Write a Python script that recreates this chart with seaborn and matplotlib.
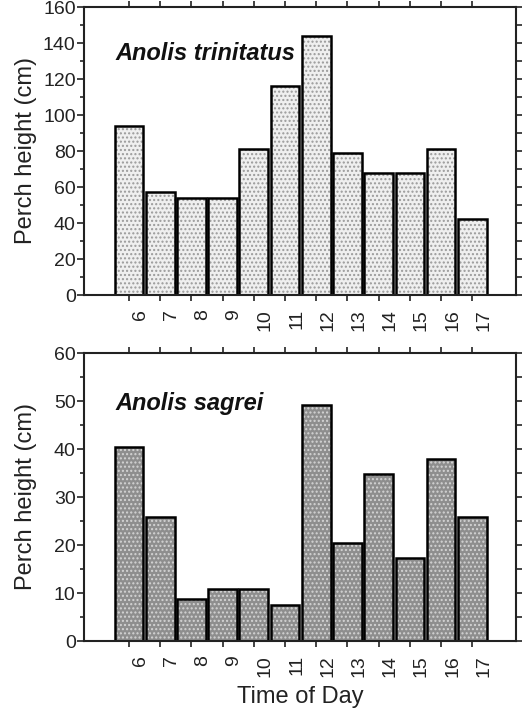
import matplotlib
matplotlib.use("Agg")
import matplotlib.pyplot as plt
import matplotlib.transforms as mtransforms
import seaborn as sns
import pandas as pd

# data
hours = ["6", "7", "8", "9", "10", "11", "12", "13", "14", "15", "16", "17"]
trinitatus_cm = [94, 57, 54, 54, 81, 116, 144, 79, 68, 68, 81, 42]
sagrei_cm = [40.5, 25.9, 8.8, 10.9, 10.9, 7.6, 49.2, 20.5, 34.8, 17.2, 38.0, 25.9]

sns.set_style("ticks")
plt.rcParams["font.family"] = ["Liberation Sans", "DejaVu Sans"]
plt.rcParams["hatch.linewidth"] = 1.0

fig = plt.figure(figsize=(5.26, 7.12), dpi=100)
ax_top = fig.add_axes([84 / 526, 1 - 295 / 712, 432 / 526, 288 / 712])
ax_bot = fig.add_axes([84 / 526, 1 - 641 / 712, 432 / 526, 288 / 712])

panels = [
    (ax_top, trinitatus_cm, "Anolis trinitatus", "#efefef", "#9a9a9a", 160, 20, 0.84),
    (ax_bot, sagrei_cm, "Anolis sagrei", "#8e8e8e", "#d4d4d4", 60, 10, 0.826),
]

# rotated hour labels sit a little to the right of their tick
shift = mtransforms.ScaledTranslation(3 / 100, 0, fig.dpi_scale_trans)

for ax, vals, name, face, dots, ymax, step, ytxt in panels:
    df = pd.DataFrame({"hour": hours, "height": vals})
    # dotted fill first, then the black outlines on top
    sns.barplot(data=df, x="hour", y="height", order=hours, ax=ax,
                color=face, width=0.92, errorbar=None, saturation=1,
                linewidth=0)
    for p in ax.patches:
        p.set_hatch("....")
        p.set_edgecolor(dots)
        p.set_linewidth(0)
    sns.barplot(data=df, x="hour", y="height", order=hours, ax=ax,
                fill=False, width=0.92, errorbar=None,
                edgecolor="black", linewidth=1.8)

    ax.set_xlim(-1.44, 12.4)
    ax.set_ylim(0, ymax)
    ax.set_yticks(range(0, ymax + 1, step))
    ax.set_yticks(range(0, ymax + 1, step // 2), minor=True)
    ax.set_ylabel("Perch height (cm)", fontsize=17, color="#222222")
    ax.yaxis.set_label_coords(-0.108, 0.5)
    ax.set_xlabel("")
    ax.tick_params(axis="y", which="major", labelsize=14, length=5, width=1.2,
                   colors="#222222", right=True, pad=1)
    ax.tick_params(axis="y", which="minor", length=3, width=1.2,
                   right=True, left=True)
    ax.tick_params(axis="x", labelsize=14, length=4, width=1.2, top=True,
                   colors="#222222", pad=6)
    for lbl in ax.get_xticklabels():
        lbl.set_rotation(90)
        lbl.set_va("top")
        lbl.set_ha("left")
        lbl.set_transform(lbl.get_transform() + shift)
    # right-hand ticks all the same length
    for t in ax.yaxis.get_major_ticks():
        t.tick2line.set_markersize(4)
    for t in ax.yaxis.get_minor_ticks():
        t.tick2line.set_markersize(4)
    for s in ax.spines.values():
        s.set_visible(True)
        s.set_linewidth(1.5)
        s.set_color("#222222")
    ax.text(0.072, ytxt, name, transform=ax.transAxes, fontsize=17,
            fontweight="bold", fontstyle="italic", va="center", ha="left",
            color="#111111")

ax_bot.set_xlabel("Time of Day", fontsize=17, color="#222222", labelpad=7)

fig.savefig("out.png", dpi=100)
